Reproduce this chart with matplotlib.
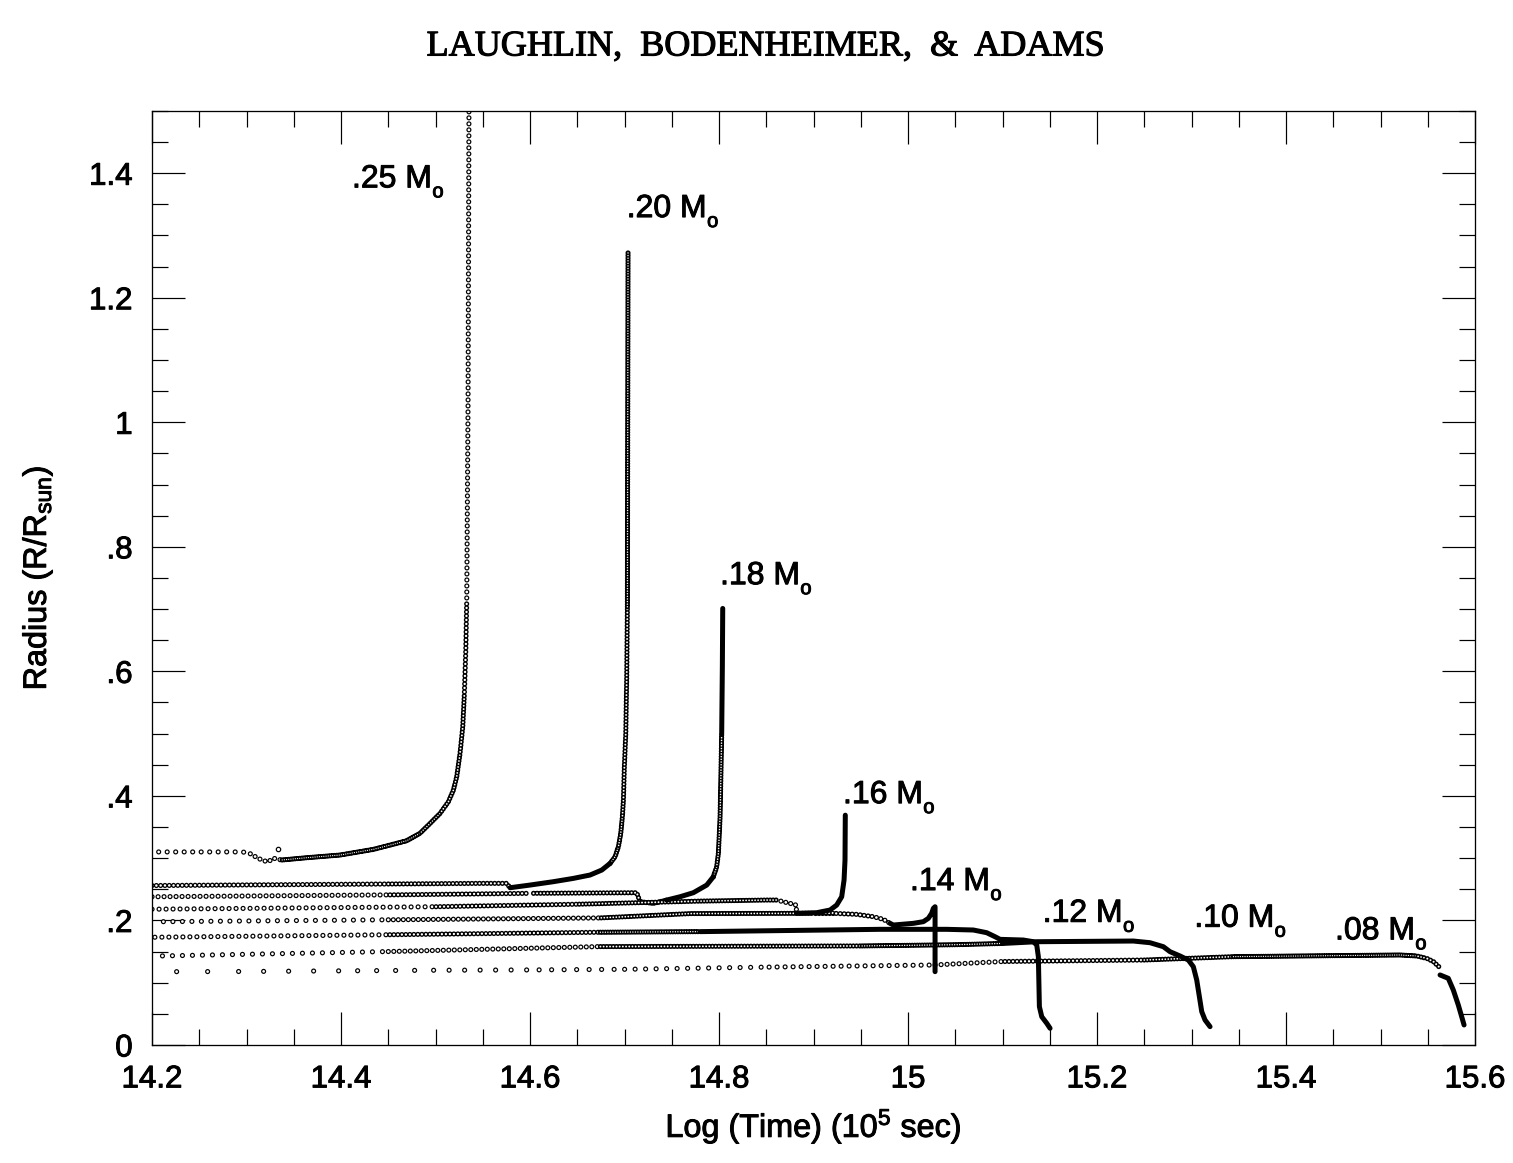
import numpy as np
import matplotlib
matplotlib.use('Agg')
import matplotlib.pyplot as plt
import matplotlib.patheffects as pe
from matplotlib.ticker import MultipleLocator, FixedLocator, FixedFormatter

plt.rcParams['font.family'] = ['Liberation Sans', 'DejaVu Sans']
plt.rcParams['mathtext.fontset'] = 'custom'
plt.rcParams['mathtext.rm'] = 'Liberation Sans'
plt.rcParams['mathtext.it'] = 'Liberation Sans:italic'
plt.rcParams['lines.scale_dashes'] = False

DPI = 100
PX = 72.0 / DPI   # points per pixel

# ---- data: log(time) and radius (R/Rsun) ----
t25 = [14.207, 14.296, 14.304, 14.3125, 14.318, 14.323, 14.328, 14.337, 14.3637,
       14.3989, 14.4342, 14.4519, 14.4695, 14.4836, 14.4942, 14.5048, 14.5136,
       14.5189, 14.5224, 14.5259, 14.5288, 14.5305, 14.5320, 14.5330, 14.5344, 14.5354]
r25 = [0.310, 0.310, 0.307, 0.2996, 0.296, 0.294, 0.300, 0.297, 0.3007,
       0.3050, 0.3141, 0.3210, 0.3280, 0.340, 0.3558, 0.3719, 0.3906,
       0.4093, 0.4307, 0.4682, 0.5109, 0.5645, 0.6340, 0.7143, 1.035, 1.52]
t25_stray = [14.3337]
r25_stray = [0.3146]

t20 = [14.200, 14.45, 14.5471, 14.5754, 14.5788, 14.60, 14.6247, 14.6458, 14.6635,
       14.6759, 14.6847, 14.69, 14.6935, 14.696, 14.6977, 14.6988, 14.6998,
       14.7013, 14.7023, 14.7030, 14.7037]
r20 = [0.256, 0.2585, 0.2595, 0.2595, 0.2525, 0.2568, 0.2622, 0.2675, 0.2729,
       0.2809, 0.2916, 0.3023, 0.3183, 0.3398, 0.3665, 0.3933, 0.4467,
       0.5003, 0.5912, 0.701, 1.276]

t18 = [14.200, 14.45, 14.60, 14.7129, 14.7164, 14.7305, 14.7446, 14.7587, 14.7728,
       14.787, 14.794, 14.7975, 14.7993, 14.8003, 14.8011, 14.8018, 14.8028,
       14.8035, 14.8039]
r18 = [0.238, 0.241, 0.2435, 0.2445, 0.230, 0.2274, 0.2327, 0.238, 0.2445,
       0.2568, 0.2702, 0.2862, 0.3077, 0.3398, 0.3665, 0.42, 0.50,
       0.607, 0.701]

t16 = [14.200, 14.50, 14.65, 14.78, 14.85, 14.861, 14.868, 14.8751, 14.8815,
       14.8822, 14.9034, 14.9175, 14.9245, 14.9298, 14.9323, 14.9333, 14.9336]
r16 = [0.218, 0.222, 0.226, 0.231, 0.2327, 0.2327, 0.230, 0.2274, 0.2247,
       0.2114, 0.2124, 0.2167, 0.2247, 0.238, 0.2649, 0.297, 0.369]

t14 = [14.212, 14.45, 14.674, 14.77, 14.90, 14.921, 14.9457, 14.9633, 14.9739,
       14.981, 14.9845, 15.0056, 15.0162, 15.0215, 15.025, 15.0268, 15.0286, 15.0286]
r14 = [0.198, 0.201, 0.204, 0.211, 0.2114, 0.2114, 0.2097, 0.206, 0.2017,
       0.1953, 0.1926, 0.1953, 0.198, 0.2033, 0.2114, 0.2194, 0.222, 0.1177]

t12 = [14.203, 14.45, 14.674, 14.78, 14.9704, 15.0409, 15.0691, 15.0832, 15.0921,
       15.0974, 15.122, 15.1326, 15.1362, 15.1379, 15.139, 15.1415, 15.1468, 15.1503]
r12 = [0.173, 0.177, 0.181, 0.182, 0.1857, 0.1857, 0.1846, 0.1803, 0.1738,
       0.1696, 0.1685, 0.1658, 0.1605, 0.1418, 0.0615, 0.0454, 0.0348, 0.0268]

t10 = [14.211, 14.45, 14.674, 14.95, 15.05, 15.10, 15.1362, 15.2384, 15.2561,
       15.2702, 15.2772, 15.2878, 15.2966, 15.3019, 15.3055, 15.3083, 15.3108,
       15.3143, 15.3196]
r10 = [0.143, 0.150, 0.158, 0.159, 0.161, 0.163, 0.1658, 0.1669, 0.1642,
       0.1578, 0.1498, 0.1429, 0.1364, 0.1257, 0.1043, 0.0776, 0.0535,
       0.0401, 0.0294]

t08 = [14.226, 14.30, 14.40, 14.50, 14.60, 14.70, 14.85, 15.027, 15.10,
       15.25, 15.344, 15.5206, 15.5383, 15.549, 15.556, 15.5624,
       15.5630, 15.5717, 15.5770, 15.5823, 15.5859, 15.5884]
r08 = [0.1177, 0.118, 0.119, 0.120, 0.1205, 0.1215, 0.125, 0.1284, 0.134,
       0.1364, 0.1418, 0.1445, 0.1429, 0.139, 0.1338, 0.1247,
       0.1124, 0.107, 0.0883, 0.0642, 0.0454, 0.0321]

mass_labels = ['.25', '.20', '.18', '.16', '.14', '.12', '.10', '.08']

xtick_vals = [14.2, 14.4, 14.6, 14.8, 15.0, 15.2, 15.4, 15.6]
xtick_text = ['14.2', '14.4', '14.6', '14.8', '15', '15.2', '15.4', '15.6']
ytick_vals = [0, 0.2, 0.4, 0.6, 0.8, 1.0, 1.2, 1.4]
ytick_text = ['0', '.2', '.4', '.6', '.8', '1', '1.2', '1.4']

# ---- drawing style: spacing of the open circles per interval (pixels),
#      0 = packed so tight it reads as a solid line, -1 = nothing drawn ----
gap25 = [8.5, 8.5, 5.5, 5.5, 5.5, 5.5, 5.5, 2.2, 2.2, 2.2, 2.2, 2.2, 2.2,
         2.6, 2.6, 3, 3, 3, 3, 3.3, 3.3, 4, 4, 6, 6]
gap20 = [4.3, 3.8, 3.8, 3.8, 0, 0, 0, 0, 0, 0, 2.5, 2.5, 2.7, 2.7,
         3, 3.3, 3.3, 3.3, 3.3, 2.6]
gap18 = [6, 4, 3.5, 3.5, 2.5, 2.5, 0, 0, 0, 0, 2.5, 2.7, 2.7, 2.7, 2.7, 2.7, 0, 0]
gap16 = [7, 4, 3.3, 3, 3, 5, 5, 5, 5, 0, 0, 0, 0, 0, 0, 0]
gap14 = [9.5, 5, 3, 3, 3.5, 4, 4, 4.5, 4.5, 0, 0, 0, 0, 0, 0, 0, 0]
gap12 = [7, 4, 2.5, 0, 0, 0, 0, 0, 0, 0, 0, 0, 0, 0, 0, 0, 0]
gap10 = [10, 5.5, 3.2, 2.5, 2.5, 0, 0, 0, 0, 0, 0, 0, 0, 0, 0, 0, 0, 0]
gap08 = [31, 25, 19, 15.5, 12.5, 10.5, 8, 6, 4, 3, 2.3, 2.3, 3, 3.5, 3.5,
         -1, 0, 0, 0, 0, 0]

tracks = [(t25, r25, gap25), (t20, r20, gap20), (t18, r18, gap18),
          (t16, r16, gap16), (t14, r14, gap14), (t12, r12, gap12),
          (t10, r10, gap10), (t08, r08, gap08)]

# label anchor (left, baseline) in data units
label_pos = [(14.4116, 1.3773), (14.7023, 1.3296), (14.8011, 0.740),
             (14.9312, 0.3884), (15.0021, 0.2488), (15.1425, 0.1978),
             (15.3030, 0.1899), (15.4519, 0.1696)]

RING_OUT = 5.2      # px
RING_IN = 2.8       # px
SOLID_LW = 5.0 * PX
BOLDEN = [pe.withStroke(linewidth=0.7, foreground='black')]


def split_runs(t, r, gaps):
    runs = []
    i = 0
    while i < len(gaps):
        j = i
        while j + 1 < len(gaps) and gaps[j + 1] == gaps[i]:
            j += 1
        runs.append((np.asarray(t[i:j + 2]), np.asarray(r[i:j + 2]), gaps[i]))
        i = j + 1
    return runs


def path_px(ax, x, y):
    pts = ax.transData.transform(np.column_stack([x, y]))
    return float(np.sum(np.hypot(*np.diff(pts, axis=0).T)))


def ring_line(ax, x, y, gap, first):
    # first: distance (px) along the run to the first circle
    offset = ((gap - first) % gap) * PX
    dash = (offset, (0.001, gap * PX))
    inner = min(RING_IN, 0.6 * gap)
    ax.plot(x, y, color='black', lw=RING_OUT * PX, linestyle=dash,
            dash_capstyle='round', zorder=2)
    ax.plot(x, y, color='white', lw=inner * PX, linestyle=dash,
            dash_capstyle='round', zorder=2)


fig = plt.figure(figsize=(15.13, 11.63), dpi=DPI)
ax = fig.add_axes([0.1005, 0.1015, 0.8744, 0.8031])
ax.set_xlim(14.2, 15.6)
ax.set_ylim(0, 1.5)

solid_runs = []
for t, r, gaps in tracks:
    carry = None
    for x, y, g in split_runs(t, r, gaps):
        if g > 0:
            length = path_px(ax, x, y)
            first = 0.0 if carry is None else max(0.0, g - carry)
            ring_line(ax, x, y, g, first)
            if length >= first:
                last = first + np.floor((length - first) / g) * g
                carry = length - last
            else:
                carry += length
        else:
            carry = None
            if g == 0:
                solid_runs.append((x, y))

for x, y in solid_runs:
    ax.plot(x, y, color='black', lw=SOLID_LW, solid_capstyle='round',
            solid_joinstyle='round', zorder=3)

ax.plot(t25_stray, r25_stray, 'o', ms=4.4 * PX, mfc='white', mec='black',
        mew=1.2 * PX, zorder=3)

# mass labels: "M" with a lowered "o" (solar symbol stand-in)
renderer = fig.canvas.get_renderer()
for lab, (lx, ly) in zip(mass_labels, label_pos):
    main = ax.text(lx, ly, lab + ' M', fontsize=23, ha='left',
                   va='baseline', zorder=4, path_effects=BOLDEN)
    w = main.get_window_extent(renderer).width
    ax.annotate('o', xy=(lx, ly), xycoords='data',
                xytext=((w + 0.5) * PX, -10 * PX), textcoords='offset points',
                fontsize=14.5, ha='left', va='baseline', zorder=4,
                path_effects=BOLDEN)

ax.xaxis.set_major_locator(FixedLocator(xtick_vals))
ax.xaxis.set_major_formatter(FixedFormatter(xtick_text))
ax.yaxis.set_major_locator(FixedLocator(ytick_vals))
ax.yaxis.set_major_formatter(FixedFormatter(ytick_text))
ax.xaxis.set_minor_locator(MultipleLocator(0.05))
ax.yaxis.set_minor_locator(MultipleLocator(0.05))
ax.tick_params(which='both', direction='in', top=True, right=True,
               width=1.2 * PX, color='black')
ax.tick_params(which='major', length=33 * PX, labelsize=22.5, pad=14)
ax.tick_params(which='minor', length=16 * PX)
for s in ax.spines.values():
    s.set_linewidth(1.3 * PX)
for lab in ax.get_xticklabels() + ax.get_yticklabels():
    lab.set_path_effects(BOLDEN)

ax.set_xlabel(r'Log (Time) (10$^{\rm 5}$ sec)', fontsize=23.3, path_effects=BOLDEN)
ax.xaxis.label.set_va('center')
ax.xaxis.set_label_coords(0.5, -0.0878)
ax.set_ylabel(r'Radius (R/R$_{\rm sun}$)', fontsize=23.3, path_effects=BOLDEN)
ax.yaxis.label.set_va('center')
ax.yaxis.set_label_coords(-0.0862, 0.5)

fig.text(0.506, 0.9596, 'LAUGHLIN,  BODENHEIMER,  &  ADAMS',
         family=['Liberation Serif', 'DejaVu Serif'], fontsize=26,
         ha='center', va='center',
         path_effects=[pe.withStroke(linewidth=0.8, foreground='black')])

fig.savefig('out.png', dpi=DPI)
